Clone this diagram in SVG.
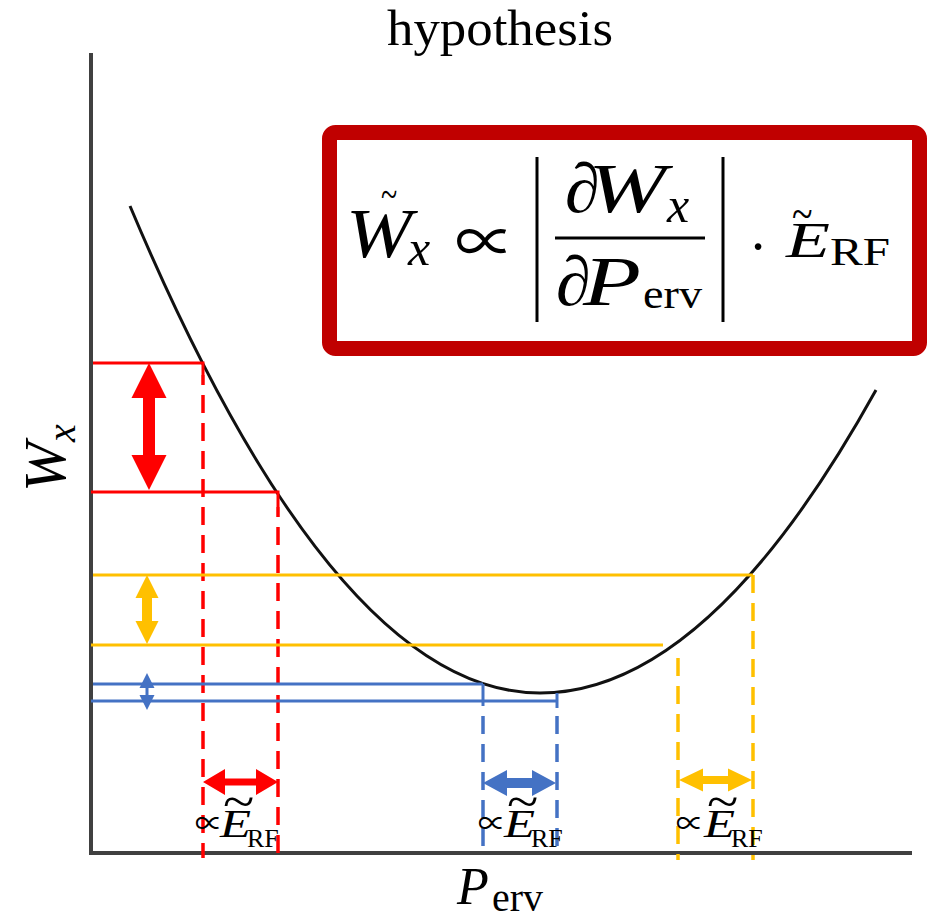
<svg xmlns="http://www.w3.org/2000/svg" width="941" height="919" viewBox="0 0 941 919">
<style>
.ax{stroke:#404040;stroke-width:4;fill:none}
.cv{stroke:#111;stroke-width:3;fill:none}
.r{stroke:#FF0000;stroke-width:3;fill:none}
.y{stroke:#FFC000;stroke-width:3;fill:none}
.b{stroke:#4472C4;stroke-width:3;fill:none}
.d{stroke-dasharray:18 10;stroke-width:3.5}
.rf{fill:#FF0000}
.yf{fill:#FFC000}
.bf{fill:#4472C4}
.t{font-family:"Liberation Serif","DejaVu Serif",serif;fill:#000}
.i{font-style:italic}
.sym{font-family:"Noto Sans CJK JP","DejaVu Sans",sans-serif;fill:#000}
</style>
<rect width="941" height="919" fill="#fff"/>
<text id="title" class="t" x="500" y="45" font-size="50" text-anchor="middle" textLength="226" lengthAdjust="spacingAndGlyphs">hypothesis</text>

<g id="axes">
<line class="ax" x1="91" y1="53" x2="91" y2="855"/>
<line class="ax" x1="89" y1="853" x2="912" y2="853"/>
<text class="t i" transform="translate(65,492) rotate(-90)" font-size="60">W<tspan font-size="40" dy="10">x</tspan></text>
<text class="t" y="904" font-size="52"><tspan class="i" x="457">P</tspan><tspan x="492" dy="7" font-size="40" textLength="51" lengthAdjust="spacingAndGlyphs">erv</tspan></text>
</g>

<g id="curve">
<path class="cv" d="M130,206 Q335,693 540,693 Q708,693 876,390"/>
</g>

<g id="formula-box">
<rect x="329.5" y="132.5" width="590" height="216" rx="6" fill="#fff" stroke="#C00000" stroke-width="15"/>
<text class="t i" x="346" y="257" font-size="70" textLength="66" lengthAdjust="spacingAndGlyphs">W</text>
<text class="t" transform="translate(381,208) scale(1,1.4)" font-size="30">~</text>
<text class="t i" x="408" y="265" font-size="50">x</text>
<text class="sym" x="455" y="264" font-size="60">∝</text>
<line x1="537" y1="157" x2="537" y2="322" stroke="#000" stroke-width="3"/>
<line x1="723" y1="157" x2="723" y2="322" stroke="#000" stroke-width="3"/>
<line x1="555" y1="238" x2="705" y2="238" stroke="#000" stroke-width="3"/>
<text class="t i" x="565" y="212" font-size="70">∂</text>
<text class="t i" x="588" y="212" font-size="70" textLength="78" lengthAdjust="spacingAndGlyphs">W</text>
<text class="t i" x="667" y="222" font-size="50">x</text>
<text class="t i" x="556" y="305" font-size="70">∂</text>
<text class="t i" x="583" y="305" font-size="70" textLength="58" lengthAdjust="spacingAndGlyphs">P</text>
<text class="t" x="643" y="308" font-size="42" textLength="59" lengthAdjust="spacingAndGlyphs">erv</text>
<text class="t" x="758" y="266" font-size="56" text-anchor="middle">·</text>
<text class="t i" x="786" y="257" font-size="50" textLength="44" lengthAdjust="spacingAndGlyphs">E</text>
<text class="t" transform="translate(792,229) scale(1,1.2)" font-size="38">~</text>
<text class="t" x="830" y="265" font-size="41" textLength="60" lengthAdjust="spacingAndGlyphs">RF</text>
</g>

<g id="red-marks">
<polyline class="r" points="93,363 203,363 203,375"/>
<polyline class="r" points="91,492 278,492 278,507"/>
<line class="r d" x1="203" y1="375" x2="203" y2="858" stroke-dashoffset="8"/>
<line class="r d" x1="278" y1="507" x2="278" y2="858" stroke-dashoffset="8"/>
<path class="rf" d="M149,363 L166.5,398 L155,398 L155,455 L166.5,455 L149,490 L131.5,455 L143,455 L143,398 L131.5,398 Z"/>
<path class="rf" d="M203,782 L225,769 L225,778.5 L256,778.5 L256,769 L278,782 L256,795 L256,785.5 L225,785.5 L225,795 Z"/>
</g>

<g id="yellow-marks">
<line class="y" x1="93" y1="575" x2="753" y2="575"/>
<line class="y" x1="91" y1="645" x2="663" y2="645"/>
<line class="y d" x1="678" y1="658" x2="678" y2="860"/>
<line class="y d" x1="753" y1="575" x2="753" y2="860"/>
<path class="yf" d="M147,575 L158.5,598 L152,598 L152,621 L158.5,621 L147,644 L135.5,621 L142,621 L142,598 L135.5,598 Z"/>
<path class="yf" d="M679,780 L703,768.5 L703,776 L728,776 L728,768.5 L752,780 L728,791.5 L728,784 L703,784 L703,791.5 Z"/>
</g>

<g id="blue-marks">
<line class="b" x1="93" y1="684" x2="483" y2="684"/>
<polyline class="b" points="91,701 557,701"/>
<line class="b" x1="483" y1="684" x2="483" y2="706"/>
<line class="b" x1="557" y1="693" x2="557" y2="708"/>
<line class="b d" x1="483" y1="716" x2="483" y2="852"/>
<line class="b d" x1="557" y1="716" x2="557" y2="852"/>
<path class="bf" d="M147,673 L154.5,688 L148.5,688 L148.5,695 L154.5,695 L147,710 L139.5,695 L145.5,695 L145.5,688 L139.5,688 Z"/>
<path class="bf" d="M483,783 L507,770 L507,778 L532,778 L532,770 L556,783 L532,796 L532,788 L507,788 L507,796 Z"/>
</g>

<g id="labels">
<g id="label-red">
<text class="sym" x="195" y="834" font-size="28">∝</text>
<text class="t i" x="220" y="837" font-size="40" textLength="31" lengthAdjust="spacingAndGlyphs">E</text>
<text class="t" transform="translate(223,818) scale(1.7,1.5)" font-size="34">~</text>
<text class="t" x="247" y="847" font-size="26">RF</text>
</g>
<g id="label-blue">
<text class="sym" x="478" y="834" font-size="28">∝</text>
<text class="t i" x="504" y="837" font-size="40" textLength="31" lengthAdjust="spacingAndGlyphs">E</text>
<text class="t" transform="translate(507,818) scale(1.7,1.5)" font-size="34">~</text>
<text class="t" x="531" y="847" font-size="26">RF</text>
</g>
<g id="label-yellow">
<text class="sym" x="676" y="834" font-size="28">∝</text>
<text class="t i" x="704" y="837" font-size="40" textLength="31" lengthAdjust="spacingAndGlyphs">E</text>
<text class="t" transform="translate(707,818) scale(1.7,1.5)" font-size="34">~</text>
<text class="t" x="731" y="847" font-size="26">RF</text>
</g>
</g>
</svg>
